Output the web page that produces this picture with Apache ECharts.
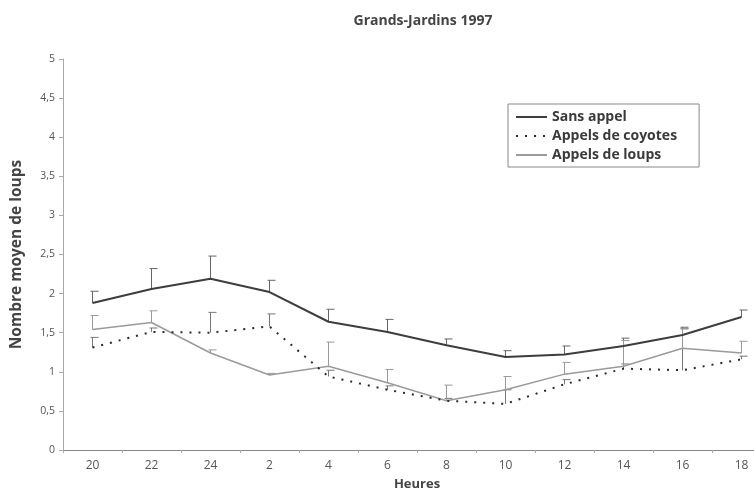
<!DOCTYPE html>
<html>
<head>
<meta charset="utf-8">
<script src="https://cdn.jsdelivr.net/npm/echarts@6/dist/echarts.min.js"></script>
<style>
  html, body { margin: 0; padding: 0; background: #fff; }
  #chart { width: 754px; height: 488px; }
</style>
</head>
<body>
<div id="chart"></div>
<script>
// heures d'observation
const hours = ['20', '22', '24', '2', '4', '6', '8', '10', '12', '14', '16', '18']

// moyennes et haut des barres d'erreur
const sansAppel = [1.88, 2.06, 2.19, 2.02, 1.64, 1.51, 1.34, 1.19, 1.22, 1.33, 1.47, 1.70]
const sansAppelTop = [2.03, 2.32, 2.48, 2.17, 1.80, 1.67, 1.42, 1.27, 1.33, 1.43, 1.57, 1.79]
const coyotes = [1.31, 1.51, 1.50, 1.58, 0.94, 0.77, 0.63, 0.59, 0.84, 1.04, 1.02, 1.16]
const coyotesTop = [1.44, 1.56, 1.76, 1.74, 1.02, 0.82, 0.66, 0.77, 0.90, 1.10, 1.55, 1.20]
const loups = [1.54, 1.63, 1.24, 0.96, 1.07, 0.86, 0.63, 0.77, 0.97, 1.07, 1.30, 1.24]
const loupsTop = [1.72, 1.78, 1.28, 0.98, 1.38, 1.03, 0.83, 0.94, 1.12, 1.40, 1.55, 1.39]

const DARK = '#3d3d3d'
const DOTS = '#2a2a2a'
const LIGHT = '#9a9a9a'

// barre d'erreur (vers le haut seulement)
function errorBars(name, values, tops, color) {
  return {
    type: 'custom',
    name: name + '-err',
    silent: true,
    z: 1,
    data: values.map((v, i) => [i, v, tops[i]]),
    renderItem: (params, api) => {
      let p0 = api.coord([api.value(0), api.value(1)])
      let p1 = api.coord([api.value(0), api.value(2)])
      let style = { stroke: color, lineWidth: 1 }
      return {
        type: 'group',
        children: [
          { type: 'line', shape: { x1: p0[0], y1: p0[1], x2: p1[0], y2: p1[1] }, style },
          { type: 'line', shape: { x1: p1[0] - 2, y1: p1[1], x2: p1[0] + 6, y2: p1[1] }, style }
        ]
      }
    }
  }
}

let myChart = echarts.init(document.getElementById('chart'))
let options = {
  animation: false,
  backgroundColor: '#fff',
  textStyle: { fontFamily: 'Open Sans' },
  title: {
    text: 'Grands-Jardins 1997',
    left: 418,
    top: 9,
    textAlign: 'center',
    textStyle: { fontSize: 14, fontWeight: 'bold', color: '#444' }
  },
  legend: {
    orient: 'vertical',
    left: 508,
    top: 104,
    width: 192,
    padding: [5, 22, 4, 7],
    itemGap: 3,
    itemWidth: 31,
    itemHeight: 8,
    borderColor: '#888',
    borderWidth: 1,
    itemStyle: { opacity: 0 },
    data: ['Sans appel', 'Appels de coyotes', 'Appels de loups'],
    textStyle: { fontSize: 14, lineHeight: 16, fontWeight: 'bold', color: '#3a3a3a' }
  },
  grid: { left: 63, width: 708, top: 59, bottom: 38, outerBoundsMode: 'none', containLabel: false },
  xAxis: {
    type: 'category',
    data: hours,
    name: 'Heures',
    nameLocation: 'middle',
    nameGap: 28,
    nameTextStyle: { fontSize: 13, fontWeight: 'bold', color: '#444' },
    axisLine: { lineStyle: { color: '#888', width: 1 } },
    axisTick: { show: true, length: 3, lineStyle: { color: '#aaa' } },
    axisLabel: { fontSize: 12, color: '#555', margin: 10 }
  },
  yAxis: {
    type: 'value',
    min: 0,
    max: 5,
    interval: 0.5,
    name: 'Nombre moyen de loups',
    nameLocation: 'middle',
    nameGap: 38,
    nameTextStyle: { fontSize: 15.5, fontWeight: 'bold', color: '#444' },
    axisLine: { show: true, lineStyle: { color: '#aaa', width: 1 } },
    axisTick: { show: true, length: 4, lineStyle: { color: '#aaa' } },
    splitLine: { show: false },
    axisLabel: {
      fontSize: 10.5,
      color: '#555',
      margin: 8,
      formatter: v => String(v).replace('.', ',')
    }
  },
  series: [
    {
      name: 'Sans appel',
      type: 'line',
      data: sansAppel,
      symbol: 'none',
      z: 3,
      color: DARK,
      lineStyle: { color: DARK, width: 2 }
    },
    {
      name: 'Appels de coyotes',
      type: 'line',
      data: coyotes,
      symbol: 'none',
      z: 3,
      color: DOTS,
      lineStyle: { color: DOTS, width: 2, type: [2, 7] }
    },
    {
      name: 'Appels de loups',
      type: 'line',
      data: loups,
      symbol: 'none',
      z: 2,
      color: LIGHT,
      lineStyle: { color: LIGHT, width: 1.5 }
    },
    errorBars('Sans appel', sansAppel, sansAppelTop, '#666'),
    errorBars('Appels de coyotes', coyotes, coyotesTop, '#777'),
    errorBars('Appels de loups', loups, loupsTop, '#999')
  ]
}
myChart.setOption(options, true)
</script>
</body>
</html>
